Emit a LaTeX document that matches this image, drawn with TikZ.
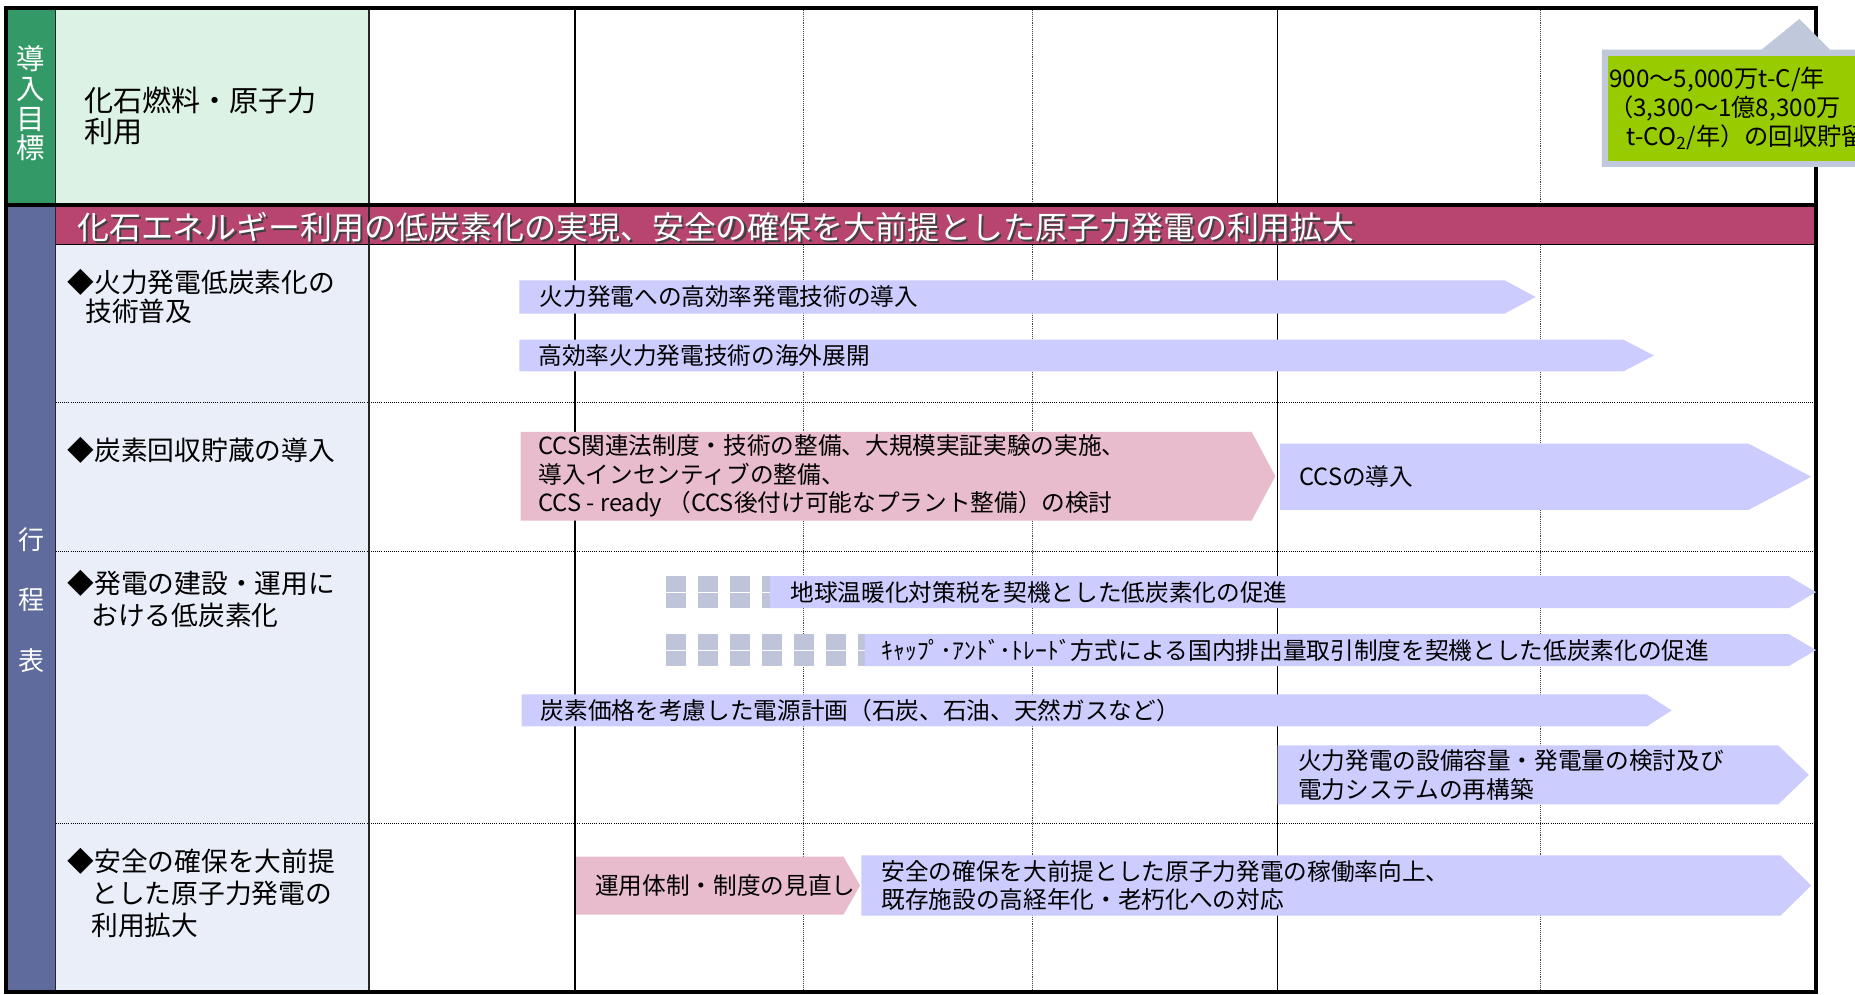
\documentclass[tikz,border=0pt]{standalone}
\usepackage{fontspec}
\setmainfont{Noto Sans CJK JP}
\definecolor{goalgreen}{RGB}{51,153,102}
\definecolor{goallight}{RGB}{220,242,228}
\definecolor{planblue}{RGB}{94,107,156}
\definecolor{labelbg}{RGB}{234,238,249}
\definecolor{titlebar}{RGB}{183,69,112}
\definecolor{arrowblue}{RGB}{204,204,255}
\definecolor{arrowpink}{RGB}{232,188,204}
\definecolor{dashgrey}{RGB}{192,196,218}
\definecolor{calloutframe}{RGB}{192,200,220}
\definecolor{calloutgreen}{RGB}{153,204,0}
\newcommand{\tlarrow}[7]{% name, style, x0, xtip, xapex, ytop, ybot
  \fill[#2] (#3,#6) -- (#4,#6) -- (#5,{(#6+#7)/2}) -- (#4,#7) -- (#3,#7) -- cycle;
  \coordinate (#1) at (#3,{(#6+#7)/2});}
\newcommand{\dashblock}[3]{% x, ytop, ybot
  \fill[dashgrey] (#1,#2) rectangle ({#1+17},#3);
  \draw[white, line width=0.7] (#1,{(#2+#3)/2}) -- ({#1+17},{(#2+#3)/2});}
\begin{document}
\begin{tikzpicture}[x=1pt,y=-1pt,
  bluearrow/.style={fill=arrowblue},
  pinkarrow/.style={fill=arrowpink},
  solidgrid/.style={draw=black, line width=1.3},
  dotgrid/.style={draw=black!75, line width=0.6, densely dotted},
  rowsep/.style={draw=black, line width=0.8, densely dotted},
  vtext/.style={text=white, align=center, inner sep=0},
  lbl/.style={anchor=west, align=left, inner sep=0, text=black},
  atext/.style={anchor=west, align=left, inner sep=0, text=black,
    font=\fontsize{20}{24}\selectfont},
  ttext/.style={anchor=west, inner sep=0, font=\fontsize{27}{30}\selectfont},
]
\clip (0,0) rectangle (1568,841);
\fill[white] (0,0) rectangle (1568,841);
% cells
\fill[goalgreen] (5,7) rectangle (47,172);
\fill[goallight] (47,7) rectangle (312,172);
\fill[planblue] (5,175) rectangle (47,838);
\fill[labelbg] (47,207) rectangle (312,838);
% grid
\foreach \x in {486,1080} \draw[solidgrid] (\x,7) -- (\x,838);
\foreach \x in {679,873,1302} \draw[dotgrid] (\x,7) -- (\x,838);
\foreach \y in {340,466,696} \draw[rowsep] (47,\y) -- (1533,\y);
% title bar
\fill[titlebar] (47,175) rectangle (1533,207);
\draw[black, line width=0.8] (47,207) -- (1533,207);
% column borders
\draw[black!85, line width=1.3] (312,7) -- (312,838);
\draw[black!85, line width=1] (47,7) -- (47,838);
\draw[black, line width=3.2] (5,173.5) -- (1535,173.5);
\draw[black, line width=3.2] (5,7) rectangle (1535,838.5);
% arrows
\tlarrow{a1}{bluearrow}{439}{1272}{1298}{237}{265}
\tlarrow{a2}{bluearrow}{439}{1372}{1398}{287}{314}
\tlarrow{a3}{pinkarrow}{440}{1058}{1078}{365}{440}
\tlarrow{a4}{bluearrow}{1082}{1478}{1531}{375}{431}
\foreach \x in {563,590,617,644} {\dashblock{\x}{487}{514}}
\tlarrow{a5}{bluearrow}{651}{1512}{1535}{487}{514}
\foreach \x in {563,590,617,644,671,698,725} {\dashblock{\x}{536}{563}}
\tlarrow{a6}{bluearrow}{731}{1512}{1535}{536}{563}
\tlarrow{a7}{bluearrow}{441}{1392}{1413}{587}{614}
\tlarrow{a8}{bluearrow}{1080}{1503}{1529}{630}{680}
\tlarrow{a9}{pinkarrow}{487}{713}{727}{724}{773}
\tlarrow{a10}{bluearrow}{728}{1505}{1531}{723}{774}
% vertical column texts
\node[vtext, font=\fontsize{24}{25}\selectfont] (goalcol) at (26,87.5) {導\\入\\目\\標};
\node[vtext, font=\fontsize{22}{51}\selectfont] (plancol) at (27,507) {行\\程\\表};
% title
\node[ttext, text=black!75] (titleshadow) at (66.8,193.6) {化石エネルギー利用の低炭素化の実現、安全の確保を大前提とした原子力発電の利用拡大};
\node[ttext, text=white] (title) at (65,192) {化石エネルギー利用の低炭素化の実現、安全の確保を大前提とした原子力発電の利用拡大};
% row labels
\node[lbl, font=\fontsize{24.6}{26.5}\selectfont] (lbl0) at (71,98) {化石燃料・原子力\\利用};
\node[lbl, font=\fontsize{22.6}{24.5}\selectfont] (lbl1) at (57,251) {◆火力発電低炭素化の\\\hspace*{15pt}技術普及};
\node[lbl, font=\fontsize{22.6}{27}\selectfont] (lbl2) at (57,381) {◆炭素回収貯蔵の導入};
\node[lbl, font=\fontsize{22.6}{27}\selectfont] (lbl3) at (57,506.5) {◆発電の建設・運用に\\\hspace*{20pt}おける低炭素化};
\node[lbl, font=\fontsize{22.6}{27}\selectfont] (lbl4) at (57,755) {◆安全の確保を大前提\\\hspace*{20pt}とした原子力発電の\\\hspace*{20pt}利用拡大};
% arrow texts
\node[atext] (t1) at ([xshift=17pt]a1) {火力発電への高効率発電技術の導入};
\node[atext] (t2) at ([xshift=16pt]a2) {高効率火力発電技術の海外展開};
\node[atext] (t3) at ([xshift=15pt]a3) {CCS関連法制度・技術の整備、大規模実証実験の実施、\\導入インセンティブの整備、\\CCS - ready （CCS後付け可能なプラント整備）の検討};
\node[atext] (t4) at ([xshift=16pt]a4) {CCSの導入};
\node[atext] (t5) at ([xshift=17pt]a5) {地球温暖化対策税を契機とした低炭素化の促進};
\node[atext] (t6) at ([xshift=14pt]a6) {ｷｬｯﾌﾟ･ｱﾝﾄﾞ･ﾄﾚｰﾄﾞ方式による国内排出量取引制度を契機とした低炭素化の促進};
\node[atext] (t7) at ([xshift=16pt]a7) {炭素価格を考慮した電源計画（石炭、石油、天然ガスなど）};
\node[atext, font=\fontsize{20}{25}\selectfont] (t8) at ([xshift=17pt]a8) {火力発電の設備容量・発電量の検討及び\\電力システムの再構築};
\node[atext] (t9) at ([xshift=16pt]a9) {運用体制・制度の見直し};
\node[atext] (t10) at ([xshift=17pt]a10) {安全の確保を大前提とした原子力発電の稼働率向上、\\既存施設の高経年化・老朽化への対応};
% callout
\fill[calloutframe] (1354,42) -- (1489,42) -- (1521,16) -- (1547,42) -- (1580,42) -- (1580,141) -- (1354,141) -- cycle;
\fill[calloutgreen] (1359,47) rectangle (1580,136);
\node[lbl, font=\fontsize{20.5}{24.5}\selectfont] (goaltarget) at (1360,91.5) {900～5,000万t-C/年\\（3,300～1億8,300万\\\hspace*{15pt}t-CO\textsubscript{2}/年）の回収貯留};
\end{tikzpicture}
\end{document}
